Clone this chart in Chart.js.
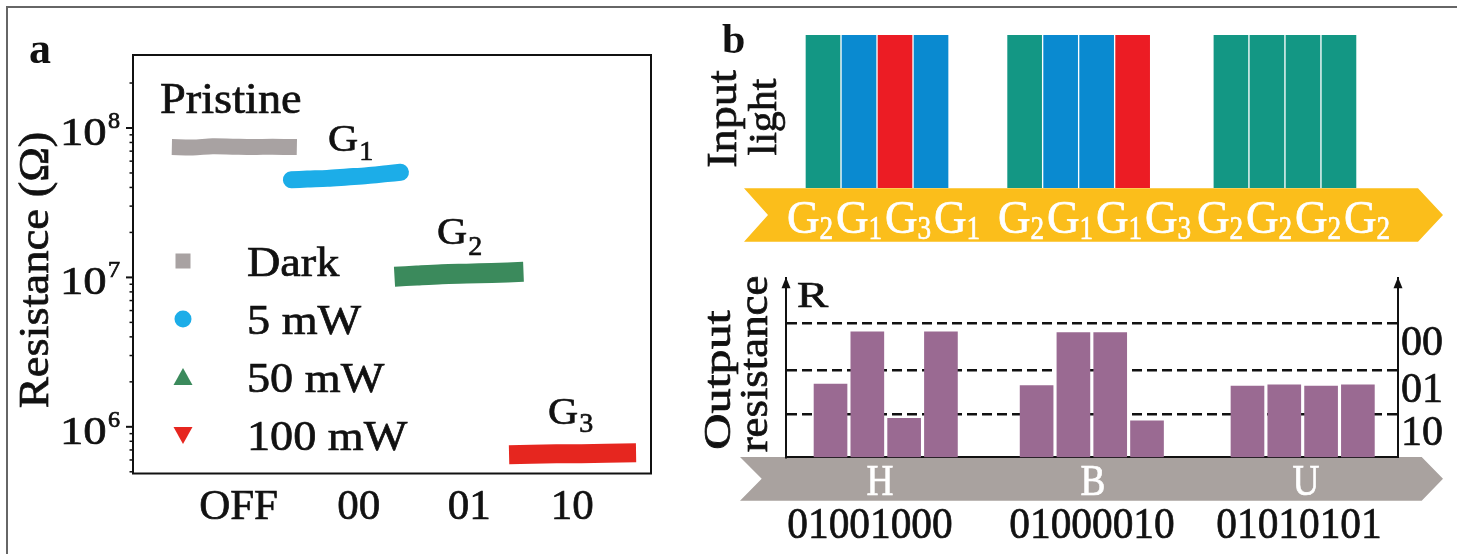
<!DOCTYPE html>
<html>
<head>
<meta charset="utf-8">
<title>Resistance states and light-coded output</title>
<script src="https://cdn.jsdelivr.net/npm/chart.js@4.4.1/dist/chart.umd.min.js"></script>
<style>
  html, body { margin: 0; padding: 0; background: #fff; }
  #page { position: relative; width: 1457px; height: 554px; overflow: hidden; }
  #frame { position: absolute; left: 6px; top: 6px; width: 1500px; height: 600px;
           border-left: 2px solid #666; border-top: 2px solid #666; }
  canvas { position: absolute; }
</style>
</head>
<body>
<div id="page">
  <div id="frame"></div>
  <canvas id="chartA" width="700" height="554" style="left:0;top:0"></canvas>
  <canvas id="chartB" width="757" height="250" style="left:700px;top:0"></canvas>
  <canvas id="chartC" width="757" height="304" style="left:700px;top:250px"></canvas>
</div>
<script>
// ---- panel a data ----
const stateLabels = ['OFF', '00', '01', '10'];
const stateLabelPos = [21.2, 45.3, 67.5, 88.2];

const darkX = [7.8, 12, 16, 20, 24, 28, 32.9];
const darkR = [7.45e7, 7.4e7, 7.55e7, 7.5e7, 7.45e7, 7.5e7, 7.45e7];
const mw5X = [31.8, 35, 39, 43, 47, 51, 53.7];
const mw5R = [4.5e7, 4.55e7, 4.6e7, 4.7e7, 4.8e7, 4.95e7, 5.05e7];
const mw50X = [52.5, 57, 62, 67, 72, 78.4];
const mw50R = [1.01e7, 1.03e7, 1.05e7, 1.06e7, 1.07e7, 1.09e7];
const mw100X = [75.5, 80, 85, 90, 95, 101];
const mw100R = [6.5e5, 6.55e5, 6.6e5, 6.6e5, 6.65e5, 6.7e5];

const yMajorTicks = [1e6, 1e7, 1e8];
const yMajorExp = ['6', '7', '8'];
const yMinorTicks = [5e5, 6e5, 7e5, 8e5, 9e5, 2e6, 3e6, 4e6, 5e6, 6e6, 7e6, 8e6, 9e6,
                     2e7, 3e7, 4e7, 5e7, 6e7, 7e7, 8e7, 9e7, 2e8];
const legendNames = ['Dark', '5 mW', '50 mW', '100 mW'];

// ---- panel b data ----
const pulseTime = [0, 1, 2, 3, 5.6, 6.6, 7.6, 8.6, 11.33, 12.33, 13.33, 14.33];
const inputLevel = ['G2', 'G1', 'G3', 'G1', 'G2', 'G1', 'G1', 'G3', 'G2', 'G2', 'G2', 'G2'];
const inputOn = [1, 1, 1, 1, 1, 1, 1, 1, 1, 1, 1, 1];
const outputR = [4.09, 7.01, 2.17, 7.01, 4.0, 6.97, 6.97, 2.04, 3.98, 4.04, 3.98, 4.04];
const thresholds = [7.5, 4.87, 2.43];
const stateTicks = [6.3, 3.7, 1.3];
const stateNames = ['00', '01', '10'];
const letters = ['H', 'B', 'U'];
const codes = ['01001000', '01000010', '01010101'];

const INK = '#111';
const FONT = '"Liberation Serif", "Times New Roman", serif';
const levelColor = { G1: '#0a8ad0', G2: '#139784', G3: '#ec1c24' };

// text with optional horizontal stretch; a thin stroke thickens it a little
function txt(ctx, s, x, y, size, o = {}) {
  ctx.save();
  ctx.font = (o.bold ? 'bold ' : '') + size + 'px ' + FONT;
  ctx.fillStyle = o.color || INK;
  ctx.strokeStyle = o.color || INK;
  ctx.lineWidth = o.bold ? 0 : 0.7;
  ctx.textAlign = o.align || 'left';
  ctx.textBaseline = o.base || 'alphabetic';
  ctx.translate(x, y);
  if (o.rot) ctx.rotate(o.rot);
  ctx.scale(o.sx || 1, 1);
  ctx.fillText(s, 0, 0);
  if (!o.bold) ctx.strokeText(s, 0, 0);
  const w = ctx.measureText(s).width * (o.sx || 1);
  ctx.restore();
  return w;
}

function seg(ctx, x1, y1, x2, y2, w) {
  ctx.beginPath();
  ctx.lineWidth = w;
  ctx.moveTo(x1, y1);
  ctx.lineTo(x2, y2);
  ctx.stroke();
}

function poly(ctx, pts, color) {
  ctx.beginPath();
  pts.forEach((p, i) => i ? ctx.lineTo(p[0], p[1]) : ctx.moveTo(p[0], p[1]));
  ctx.closePath();
  ctx.fillStyle = color;
  ctx.fill();
}

function band(label, xs, ys, color, width, cap) {
  return {
    label,
    data: xs.map((x, i) => ({ x, y: ys[i] })),
    showLine: true,
    borderColor: color,
    backgroundColor: color,
    borderWidth: width,
    borderCapStyle: cap,
    borderJoinStyle: 'round',
    tension: 0.3,
    pointRadius: 0
  };
}

// ---------- panel a ----------
const bandColors = ['#a8a2a2', '#1cade8', '#3b8a5c', '#e6261f'];

const panelA = {
  id: 'panelA',
  afterDraw(chart) {
    const { ctx, chartArea: ca, scales: { y } } = chart;
    ctx.save();
    ctx.strokeStyle = INK;
    ctx.lineWidth = 2;
    ctx.strokeRect(ca.left, ca.top, ca.right - ca.left, ca.bottom - ca.top);

    yMinorTicks.forEach(v => {
      const py = y.getPixelForValue(v);
      seg(ctx, ca.left - 3.5, py, ca.left, py, 1.5);
    });
    yMajorTicks.forEach((v, i) => {
      const py = y.getPixelForValue(v);
      seg(ctx, ca.left - 7, py, ca.left, py, 2);
      txt(ctx, '10', 60, py + 17, 41, { sx: 1.14 });
      txt(ctx, yMajorExp[i], 108, py, 23, { sx: 1.05 });
    });

    txt(ctx, 'Resistance (\u03A9)', 37, 270, 42, { rot: -Math.PI / 2, sx: 1.11, align: 'center', base: 'middle' });
    txt(ctx, 'a', 29, 63, 44, { bold: true });

    txt(ctx, 'Pristine', 160, 113, 45, { sx: 1.03 });
    const gLabel = (n, x, yb, dy) => {
      const w = txt(ctx, 'G', x, yb, 38, { sx: 1.1 });
      txt(ctx, n, x + w + 1, yb + dy, 28);
    };
    gLabel('1', 328, 151, 9);
    gLabel('2', 437, 244, 11);
    gLabel('3', 548, 424, 8);

    // legend
    const mx = 183;
    legendNames.forEach((name, i) => {
      const cy = 261 + i * 58;
      ctx.fillStyle = bandColors[i];
      if (i === 0) ctx.fillRect(mx - 7.5, cy - 7.5, 15, 15);
      if (i === 1) { ctx.beginPath(); ctx.arc(mx, cy, 8.5, 0, Math.PI * 2); ctx.fill(); }
      if (i === 2) poly(ctx, [[mx, cy - 9], [mx + 9.5, cy + 8], [mx - 9.5, cy + 8]], bandColors[i]);
      if (i === 3) poly(ctx, [[mx, cy + 9], [mx + 9.5, cy - 8], [mx - 9.5, cy - 8]], bandColors[i]);
      txt(ctx, name, 247, cy + 15, 42, { sx: 1.1 });
    });
    ctx.restore();
  }
};

new Chart(document.getElementById('chartA'), {
  type: 'scatter',
  data: {
    datasets: [
      band('Dark', darkX, darkR, bandColors[0], 16, 'butt'),
      band('5 mW', mw5X, mw5R, bandColors[1], 17, 'round'),
      band('50 mW', mw50X, mw50R, bandColors[2], 20, 'butt'),
      band('100 mW', mw100X, mw100R, bandColors[3], 19, 'butt')
    ]
  },
  options: {
    responsive: false,
    animation: false,
    events: [],
    layout: { padding: { left: 0, top: 55, right: 49, bottom: 0 } },
    plugins: { legend: { display: false }, tooltip: { enabled: false } },
    scales: {
      x: {
        type: 'linear', min: 0, max: 104,
        grid: { display: false, drawTicks: false },
        border: { display: false },
        afterBuildTicks: s => { s.ticks = stateLabelPos.map(v => ({ value: v })); },
        afterFit: s => { s.height = 554 - 473.5; },
        ticks: {
          callback: (v, i) => stateLabels[i],
          font: { family: FONT, size: 43 }, color: INK,
          textStrokeColor: INK, textStrokeWidth: 0.7,
          padding: 8, maxRotation: 0, autoSkip: false
        }
      },
      y: {
        type: 'logarithmic', min: 4.87e5, max: 3.08e8,
        grid: { display: false, drawTicks: false },
        border: { display: false },
        ticks: { display: false },
        afterFit: s => { s.width = 133; }
      }
    }
  },
  plugins: [panelA]
});

// ---------- panel b, input light ----------
const panelB = {
  id: 'panelB',
  afterDraw(chart) {
    const { ctx } = chart;
    ctx.save();
    ctx.translate(-700, 0);
    txt(ctx, 'b', 722, 53, 42, { bold: true });
    txt(ctx, 'Input', 736, 119, 42, { rot: -Math.PI / 2, align: 'center', sx: 1.1 });
    txt(ctx, 'light', 776, 117, 40, { rot: -Math.PI / 2, align: 'center', sx: 1.05 });

    poly(ctx, [[744, 188.3], [1418, 188.3], [1443, 215], [1418, 241.7], [744, 241.7], [768, 215]], '#fbbe1b');
    const starts = [787, 998, 1197];
    starts.forEach((x0, g) => {
      for (let k = 0; k < 4; k++) {
        const lvl = inputLevel[g * 4 + k];
        const x = x0 + k * 49;
        const w = txt(ctx, 'G', x, 233, 46, { sx: 0.98, color: '#fff' });
        txt(ctx, lvl.slice(1), x + w, 239, 34, { sx: 0.8, color: '#fff' });
      }
    });
    ctx.restore();
  }
};

new Chart(document.getElementById('chartB'), {
  type: 'bar',
  data: {
    datasets: [{
      data: pulseTime.map((t, i) => ({ x: t, y: inputOn[i] })),
      backgroundColor: inputLevel.map(l => levelColor[l]),
      borderWidth: 0,
      barThickness: 34
    }]
  },
  options: {
    responsive: false,
    animation: false,
    events: [],
    layout: { padding: { left: 87, right: 59, top: 35, bottom: 62 } },
    plugins: { legend: { display: false }, tooltip: { enabled: false } },
    scales: {
      x: { type: 'linear', min: -1, max: 15.97, offset: false, display: false },
      y: { min: 0, max: 1, display: false }
    }
  },
  plugins: [panelB]
});

// ---------- panel b, output resistance ----------
const panelC = {
  id: 'panelC',
  beforeDraw(chart) {
    const { ctx } = chart;
    ctx.save();
    ctx.translate(-700, -250);
    poly(ctx, [[740, 457], [1421.7, 457], [1443, 478.7], [1421.7, 500.7], [740, 500.7], [761.7, 478.7]], '#a9a29f');
    ctx.restore();
  },
  afterDraw(chart) {
    const { ctx, chartArea: ca } = chart;
    ctx.save();
    [ca.left, ca.right].forEach(x => {
      poly(ctx, [[x, ca.top - 1], [x + 4.5, ca.top + 10], [x - 4.5, ca.top + 10]], INK);
    });
    ctx.translate(-700, -250);
    txt(ctx, 'R', 797, 307, 36, { sx: 1.3 });
    txt(ctx, 'Output', 730, 380, 38, { rot: -Math.PI / 2, align: 'center', sx: 1.32 });
    txt(ctx, 'resistance', 767, 364, 40, { rot: -Math.PI / 2, align: 'center', sx: 1.12 });
    const centers = [880, 1093, 1306];
    const codeCenters = [870, 1092, 1299];
    letters.forEach((l, i) => {
      txt(ctx, l, centers[i], 495, 44, { sx: 0.85, align: 'center', color: '#fff' });
      txt(ctx, codes[i], codeCenters[i], 538, 44, { sx: 0.94, align: 'center' });
    });
    ctx.restore();
  }
};

new Chart(document.getElementById('chartC'), {
  type: 'bar',
  data: {
    datasets: [{
      data: pulseTime.map((t, i) => ({ x: t, y: outputR[i] })),
      backgroundColor: '#9a6a92',
      borderWidth: 0,
      barThickness: 33
    }]
  },
  options: {
    responsive: false,
    animation: false,
    events: [],
    layout: { padding: { left: 86, right: 0, top: 20, bottom: 96.7 } },
    plugins: { legend: { display: false }, tooltip: { enabled: false } },
    scales: {
      x: {
        type: 'linear', min: -1.21, max: 15.42, offset: false,
        grid: { display: false, drawTicks: false },
        ticks: { display: false },
        border: { display: true, color: INK, width: 2 },
        afterFit: s => { s.height = 0; }
      },
      y: {
        position: 'left', min: 0, max: 10,
        afterBuildTicks: s => { s.ticks = thresholds.map(v => ({ value: v })); },
        ticks: { display: false },
        grid: { color: INK, lineWidth: 2.5, drawTicks: false },
        border: { display: true, color: INK, width: 2, dash: [10, 5] },
        afterFit: s => { s.width = 0; }
      },
      y2: {
        position: 'right', min: 0, max: 10,
        afterBuildTicks: s => { s.ticks = stateTicks.map(v => ({ value: v })); },
        ticks: {
          callback: (v, i) => stateNames[i],
          font: { family: FONT, size: 42 }, color: INK,
          textStrokeColor: INK, textStrokeWidth: 0.7, padding: 3
        },
        grid: { display: false, drawTicks: false },
        border: { display: true, color: INK, width: 2 },
        afterFit: s => { s.width = 59; }
      }
    }
  },
  plugins: [panelC]
});
</script>
</body>
</html>
